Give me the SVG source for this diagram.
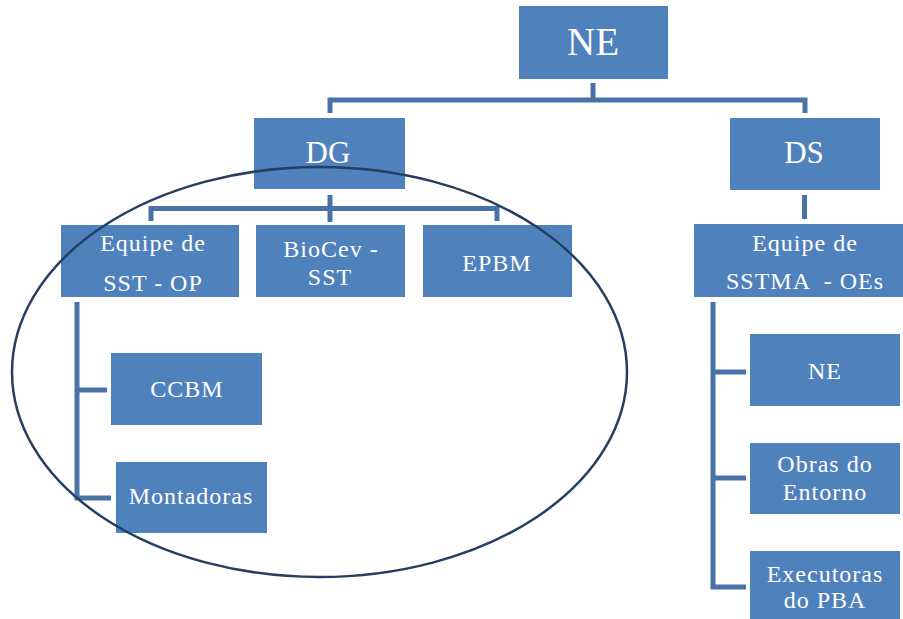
<svg xmlns="http://www.w3.org/2000/svg" width="903" height="619" viewBox="0 0 903 619">
<style>
.box{fill:#4f81bd}
.t{fill:#ffffff;font-family:"Liberation Serif",serif;text-anchor:middle;font-size:24px;letter-spacing:1px}
.c{fill:none;stroke:#4872a8;stroke-width:5;stroke-linejoin:miter;stroke-linecap:butt}
</style>
<rect width="903" height="619" fill="#ffffff"/>
<g id="connectors">
<path class="c" d="M593,83 V100 M330,113 V100 H805 V113"/>
<path class="c" d="M330,195 V222 M151,221 V208.5 H497 V221"/>
<path class="c" d="M804.5,195 V219"/>
<path class="c" d="M77,302 V498 H111 M77,390 H107"/>
<path class="c" d="M713,302 V587 H746 M713,372 H746 M713,478 H746"/>
</g>
<g id="n-ne">
<rect class="box" x="519" y="6" width="149" height="73"/>
<text class="t" x="593" y="55" style="font-size:39px;letter-spacing:0">NE</text>
</g>
<g id="n-dg">
<rect class="box" x="254" y="118" width="151" height="71"/>
<text class="t" x="328" y="163" style="font-size:31px;letter-spacing:0">DG</text>
</g>
<g id="n-ds">
<rect class="box" x="730" y="118" width="150" height="72"/>
<text class="t" x="804" y="163" style="font-size:31px;letter-spacing:0">DS</text>
</g>
<g id="n-sst-op">
<rect class="box" x="61" y="225" width="178" height="72"/>
<text class="t" x="153" y="251">Equipe de</text>
<text class="t" x="153" y="291">SST - OP</text>
</g>
<g id="n-biocev">
<rect class="box" x="256" y="225" width="149" height="72"/>
<text class="t" x="331" y="257">BioCev -</text>
<text class="t" x="330" y="285">SST</text>
</g>
<g id="n-epbm">
<rect class="box" x="423" y="225" width="149" height="72"/>
<text class="t" x="497" y="271">EPBM</text>
</g>
<g id="n-sstma">
<rect class="box" x="694" y="224" width="222" height="73"/>
<text class="t" x="805" y="251">Equipe de</text>
<text class="t" x="805" y="289" xml:space="preserve">SSTMA  - OEs</text>
</g>
<g id="n-ccbm">
<rect class="box" x="111" y="353" width="151" height="72"/>
<text class="t" x="187" y="397">CCBM</text>
</g>
<g id="n-montadoras">
<rect class="box" x="116" y="462" width="151" height="71"/>
<text class="t" x="191" y="504">Montadoras</text>
</g>
<g id="n-ne2">
<rect class="box" x="750" y="334" width="150" height="72"/>
<text class="t" x="825" y="379">NE</text>
</g>
<g id="n-obras">
<rect class="box" x="750" y="443" width="150" height="71"/>
<text class="t" x="825" y="472">Obras do</text>
<text class="t" x="825" y="500">Entorno</text>
</g>
<g id="n-executoras">
<rect class="box" x="750" y="551" width="150" height="68"/>
<text class="t" x="825" y="582">Executoras</text>
<text class="t" x="825" y="608">do PBA</text>
</g>
<ellipse id="highlight" cx="319.5" cy="372" rx="307.5" ry="205" fill="none" stroke="#243f60" stroke-width="2.5"/>
</svg>
